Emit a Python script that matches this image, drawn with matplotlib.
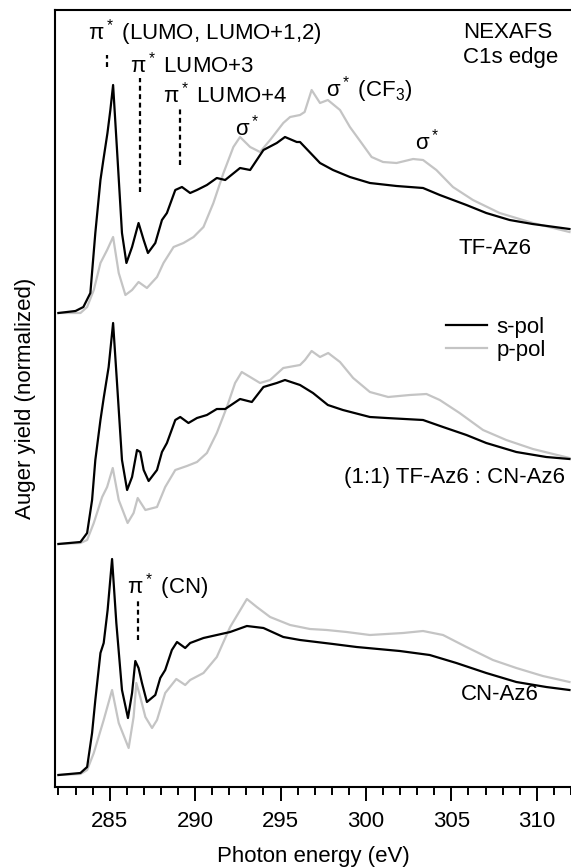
import numpy as np
import matplotlib
matplotlib.use("Agg")
import matplotlib.pyplot as plt
from matplotlib.ticker import MultipleLocator

plt.rcParams['font.family'] = ['Liberation Sans', 'DejaVu Sans']
plt.rcParams['mathtext.fontset'] = 'custom'
plt.rcParams['mathtext.rm'] = 'Liberation Sans'
plt.rcParams['mathtext.it'] = 'Liberation Sans:italic'
plt.rcParams['mathtext.bf'] = 'Liberation Sans:bold'

# ---------------- data (photon energy in eV, normalized Auger yield) ----------------
tf_s_E = [282.0, 283.0, 283.46, 283.87, 284.16, 284.46, 284.63, 284.87, 285.04, 285.20, 285.43, 285.72,
          285.98, 286.31, 286.69, 286.99, 287.24, 287.67, 288.06, 288.35, 288.84, 289.23, 289.71, 290.11,
          290.69, 291.27, 291.76, 292.63, 293.22, 294.00, 294.78, 295.26, 295.95, 296.14, 297.31, 298.07,
          299.06, 300.23, 301.79, 303.34, 304.32, 305.88, 307.04, 308.41, 309.75, 311.91]
tf_s_I = [0.0, 0.01, 0.03, 0.10, 0.40, 0.665, 0.765, 0.90, 1.015, 1.14, 0.815, 0.40,
          0.25, 0.33, 0.45, 0.365, 0.30, 0.35, 0.465, 0.50, 0.615, 0.63, 0.60, 0.615,
          0.64, 0.675, 0.665, 0.725, 0.715, 0.815, 0.85, 0.88, 0.855, 0.855, 0.75, 0.715,
          0.68, 0.65, 0.635, 0.625, 0.59, 0.54, 0.50, 0.465, 0.445, 0.42]

tf_p_E = [282.0, 283.29, 283.68, 284.07, 284.46, 284.85, 285.20, 285.53, 285.92, 286.31, 286.69, 287.18,
          287.77, 288.15, 288.74, 289.32, 289.91, 290.49, 291.07, 291.66, 292.24, 292.63, 293.22, 293.80,
          294.39, 295.16, 295.56, 296.14, 296.41, 296.82, 297.31, 297.77, 298.48, 299.06, 299.74, 300.33,
          301.00, 301.79, 302.76, 303.34, 304.12, 305.09, 306.26, 307.82, 309.77, 311.91]
tf_p_I = [0.0, 0.0, 0.03, 0.115, 0.25, 0.315, 0.38, 0.20, 0.09, 0.115, 0.155, 0.125,
          0.18, 0.25, 0.33, 0.35, 0.38, 0.43, 0.55, 0.70, 0.83, 0.88, 0.83, 0.805,
          0.865, 0.95, 0.98, 0.99, 1.005, 1.115, 1.05, 1.065, 1.015, 0.93, 0.85, 0.78,
          0.755, 0.75, 0.77, 0.765, 0.715, 0.63, 0.565, 0.50, 0.45, 0.405]

mix_s_E = [282.0, 283.29, 283.68, 283.97, 284.16, 284.46, 284.65, 284.94, 285.20, 285.43, 285.72, 286.02,
           286.31, 286.60, 286.79, 286.99, 287.28, 287.77, 288.06, 288.35, 288.84, 289.13, 289.61, 290.11,
           290.69, 291.27, 291.76, 292.63, 293.32, 294.00, 294.78, 295.26, 296.14, 296.90, 297.77, 298.65,
           300.23, 301.20, 303.34, 304.51, 305.88, 307.04, 308.80, 310.55, 311.91]
mix_s_I = [0.0, 0.01, 0.055, 0.22, 0.42, 0.62, 0.73, 0.885, 1.105, 0.805, 0.42, 0.27,
           0.335, 0.47, 0.46, 0.37, 0.315, 0.37, 0.46, 0.505, 0.62, 0.635, 0.605, 0.63,
           0.645, 0.675, 0.675, 0.725, 0.71, 0.785, 0.805, 0.82, 0.795, 0.755, 0.695, 0.67,
           0.635, 0.63, 0.62, 0.585, 0.545, 0.505, 0.46, 0.435, 0.425]

mix_p_E = [282.0, 283.29, 283.68, 284.07, 284.56, 284.85, 285.18, 285.53, 286.05, 286.40, 286.64, 287.09,
           287.77, 288.25, 288.84, 289.52, 290.11, 290.69, 291.27, 291.86, 292.34, 292.73, 293.22, 293.80,
           294.39, 295.16, 296.14, 296.43, 296.82, 297.31, 297.79, 298.48, 299.25, 300.23, 301.30, 302.56,
           303.54, 304.32, 305.48, 306.85, 308.21, 309.77, 311.91]
mix_p_I = [0.0, 0.005, 0.02, 0.105, 0.235, 0.285, 0.38, 0.22, 0.105, 0.155, 0.23, 0.17,
           0.185, 0.285, 0.37, 0.39, 0.41, 0.455, 0.555, 0.685, 0.805, 0.86, 0.835, 0.805,
           0.82, 0.88, 0.895, 0.92, 0.965, 0.935, 0.955, 0.91, 0.83, 0.76, 0.735, 0.745,
           0.75, 0.72, 0.655, 0.57, 0.52, 0.475, 0.43]

cn_s_E = [282.0, 283.29, 283.68, 283.97, 284.16, 284.46, 284.65, 284.88, 285.14, 285.39, 285.72, 286.07,
          286.31, 286.50, 286.69, 286.89, 287.18, 287.67, 287.96, 288.25, 288.64, 288.94, 289.42, 289.71,
          290.49, 291.27, 292.05, 293.03, 294.00, 295.16, 296.14, 298.07, 299.45, 301.98, 303.73, 305.29,
          307.04, 308.80, 310.55, 311.91]
cn_s_I = [0.0, 0.01, 0.04, 0.21, 0.375, 0.61, 0.66, 0.825, 1.08, 0.76, 0.425, 0.285,
          0.41, 0.57, 0.535, 0.46, 0.365, 0.40, 0.485, 0.525, 0.625, 0.665, 0.635, 0.66,
          0.685, 0.70, 0.715, 0.745, 0.735, 0.69, 0.675, 0.655, 0.64, 0.62, 0.60, 0.56,
          0.51, 0.465, 0.44, 0.425]

cn_p_E = [282.0, 283.29, 283.68, 284.07, 284.65, 285.14, 285.53, 286.11, 286.40, 286.56, 286.79, 287.09,
          287.48, 287.77, 288.25, 288.90, 289.42, 289.71, 290.49, 291.27, 292.05, 293.03, 293.61, 294.39,
          295.56, 296.72, 297.70, 298.87, 300.23, 302.17, 303.34, 304.51, 305.88, 307.43, 308.80, 310.35,
          311.91]
cn_p_I = [0.0, 0.005, 0.025, 0.11, 0.275, 0.425, 0.26, 0.135, 0.29, 0.46, 0.39, 0.29,
          0.235, 0.275, 0.41, 0.48, 0.45, 0.475, 0.51, 0.59, 0.74, 0.88, 0.84, 0.79,
          0.75, 0.73, 0.725, 0.715, 0.70, 0.71, 0.72, 0.70, 0.64, 0.575, 0.535, 0.495,
          0.465]

offsets = [2.37, 1.215, 0.06]          # vertical offset of TF-Az6, mixture, CN-Az6
sample_labels = ["TF-Az6", "(1:1) TF-Az6 : CN-Az6", "CN-Az6"]
pol_labels = ["s-pol", "p-pol"]

# ---------------- figure ----------------
W, H = 571, 868
fig = plt.figure(figsize=(W / 100, H / 100), dpi=100)
ax = fig.add_axes([55 / W, (H - 787) / H, (W - 55) / W, (787 - 10) / H])

black = "#000000"
gray = "#c4c4c4"
lw = 1.6

sets = [(tf_s_E, tf_s_I, tf_p_E, tf_p_I),
        (mix_s_E, mix_s_I, mix_p_E, mix_p_I),
        (cn_s_E, cn_s_I, cn_p_E, cn_p_I)]
handles = None
for (sE, sI, pE, pI), off in zip(sets, offsets):
    hp, = ax.plot(pE, np.array(pI) + off, color=gray, lw=lw, solid_joinstyle='round')
    hs, = ax.plot(sE, np.array(sI) + off, color=black, lw=lw, solid_joinstyle='round')
    if handles is None:
        handles = [hs, hp]

ax.set_xlim(281.8, 312.0)
ax.set_ylim(0, 3.885)

# axes styling
ax.spines['right'].set_visible(False)
for s in ['top', 'left', 'bottom']:
    ax.spines[s].set_linewidth(1.5)
ax.set_yticks([])
ax.xaxis.set_major_locator(MultipleLocator(5))
ax.xaxis.set_minor_locator(MultipleLocator(1))
ax.tick_params(axis='x', which='major', direction='out', length=10, width=1.4,
               labelsize=16, pad=7)
ax.tick_params(axis='x', which='minor', direction='out', length=5.5, width=1.4)
ax.set_xlabel("Photon energy (eV)", fontsize=16, labelpad=10.5)
ax.set_ylabel("Auger yield (normalized)", fontsize=16, labelpad=14)

fs = 16
dash = (0, (2.2, 1.6))
# peak marker lines
ax.plot([284.85, 284.85], [3.60, 3.66], color=black, lw=1.6, linestyle=dash)
ax.plot([286.75, 286.75], [2.975, 3.545], color=black, lw=1.6, linestyle=dash)
ax.plot([289.13, 289.13], [3.11, 3.40], color=black, lw=1.6, linestyle=dash)
ax.plot([286.64, 286.64], [0.735, 0.935], color=black, lw=1.6, linestyle=dash)

# annotations
ax.text(290.6, 3.77, "π$^*$ (LUMO, LUMO+1,2)", ha='center', va='center', fontsize=fs)
ax.text(289.81, 3.61, "π$^*$ LUMO+3", ha='center', va='center', fontsize=fs)
ax.text(291.76, 3.46, "π$^*$ LUMO+4", ha='center', va='center', fontsize=fs)
ax.text(293.04, 3.295, "σ$^*$", ha='center', va='center', fontsize=fs)
ax.text(300.17, 3.485, "σ$^*$ (CF$_3$)", ha='center', va='center', fontsize=fs)
ax.text(303.56, 3.225, "σ$^*$", ha='center', va='center', fontsize=fs)
ax.text(305.67, 3.775, "NEXAFS", ha='left', va='center', fontsize=fs)
ax.text(305.67, 3.65, "C1s edge", ha='left', va='center', fontsize=fs)
ax.text(288.40, 1.00, "π$^*$ (CN)", ha='center', va='center', fontsize=fs)

ax.text(307.56, 2.695, sample_labels[0], ha='center', va='center', fontsize=fs)
ax.text(311.62, 1.55, sample_labels[1], ha='right', va='center', fontsize=fs)
ax.text(307.82, 0.46, sample_labels[2], ha='center', va='center', fontsize=fs)

ax.legend(handles, pol_labels, loc='upper left', bbox_to_anchor=(0.757, 0.605),
          frameon=False, fontsize=fs, handlelength=1.85, handletextpad=0.45,
          labelspacing=0.1, borderpad=0, borderaxespad=0)

fig.savefig("out.png", dpi=100)
